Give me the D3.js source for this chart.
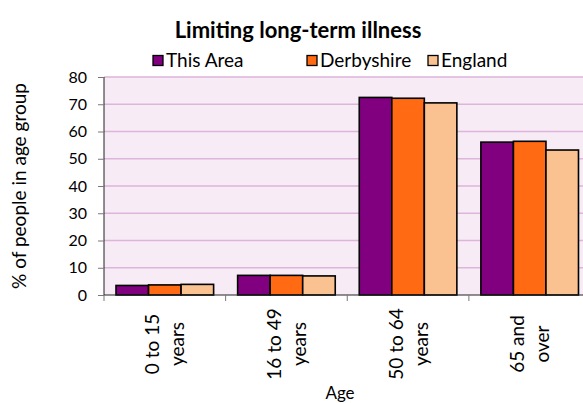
<!DOCTYPE html>
<html><head><meta charset="utf-8">
<script src="https://cdn.jsdelivr.net/npm/d3@7/dist/d3.min.js"></script>
<style>body{margin:0;background:#fff}svg{display:block}text{font-family:Lato,"Open Sans",sans-serif;fill:#000}</style>
</head><body><svg id="c" width="583" height="403"></svg>
<script>
const categories = [["0 to 15","years"],["16 to 49","years"],["50 to 64","years"],["65 and","over"]];
const seriesNames = ["This Area","Derbyshire","England"];
const thisArea = [3.5, 7.2, 72.5, 56.1];
const derbyshire = [3.7, 7.2, 72.2, 56.4];
const england = [3.9, 7.0, 70.5, 53.2];
const yTicks = [0,10,20,30,40,50,60,70,80];
const colors = ["#800080","#FF6A13","#FAC191"];
const series = [thisArea, derbyshire, england];

const svg = d3.select("#c");
const L = 104, R = 590.5, T = 77, B = 295;
const x0 = d3.scaleBand().domain(d3.range(categories.length)).range([L,R]);
const y = d3.scaleLinear().domain([0,80]).range([B,T]);

svg.append("rect").attr("x",L).attr("y",T).attr("width",R-L).attr("height",B-T).attr("fill","#F7EBF6");
svg.append("g").selectAll("line").data(yTicks.filter(d=>d>0)).join("line")
  .attr("x1",L).attr("x2",R).attr("y1",d=>y(d)).attr("y2",d=>y(d))
  .attr("stroke","#DDB5DA").attr("stroke-width",1.3);

// bars
const bw = x0.bandwidth()*0.2675;
const x1 = d => x0(d) + (x0.bandwidth() - 3*bw)/2;
series.forEach((s,si)=>{
  svg.append("g").selectAll("rect").data(s).join("rect")
    .attr("x",(d,i)=>x1(i)+si*bw).attr("width",bw)
    .attr("y",d=>y(d)).attr("height",d=>B-y(d))
    .attr("fill",colors[si]).attr("stroke","#000").attr("stroke-width",1.6);
});

// y axis
const ya = svg.append("g").attr("transform",`translate(${L},0)`)
  .call(d3.axisLeft(y).tickValues(yTicks).tickSize(6).tickPadding(11));
ya.select(".domain").attr("stroke","#222").attr("d",`M0,${T}V${B}`);
ya.selectAll(".tick line").attr("stroke","#777");
ya.selectAll("text").attr("font-size",16).attr("font-family","Lato").attr("fill","#000");

// x axis
const xa = svg.append("g").attr("transform",`translate(0,${B})`);
xa.append("line").attr("x1",L).attr("x2",R).attr("stroke","#222");
xa.selectAll("line.t").data(d3.range(categories.length+1)).join("line").attr("class","t")
  .attr("x1",d=>L+d*x0.bandwidth()).attr("x2",d=>L+d*x0.bandwidth()).attr("y1",0).attr("y2",6).attr("stroke","#777");
categories.forEach((c,i)=>{
  const cx = x0(i)+x0.bandwidth()/2;
  const g = svg.append("g").attr("transform",`translate(${cx},344) rotate(-90)`);
  c.forEach((line,j)=>{
    g.append("text").attr("x",0).attr("y",(j-0.5)*25+7).attr("text-anchor","middle")
      .attr("font-size",19).text(line);
  });
});

svg.append("text").attr("x",340).attr("y",398.5).attr("text-anchor","middle").attr("font-size",17).text("Age");
svg.append("text").attr("transform","translate(26,186) rotate(-90)").attr("text-anchor","middle").attr("font-size",19).text("% of people in age group");

svg.append("text").attr("x",298).attr("y",38).attr("text-anchor","middle").attr("font-size",22).attr("font-weight","bold").text("Limiting long-term illness");

const legX = [153,307,428];
seriesNames.forEach((n,i)=>{
  svg.append("rect").attr("x",legX[i]).attr("y",55.5).attr("width",10).attr("height",10)
    .attr("fill",colors[i]).attr("stroke","#000").attr("stroke-width",1.3);
  svg.append("text").attr("x",legX[i]+13).attr("y",67).attr("font-size",19).text(n);
});
</script></body></html>
